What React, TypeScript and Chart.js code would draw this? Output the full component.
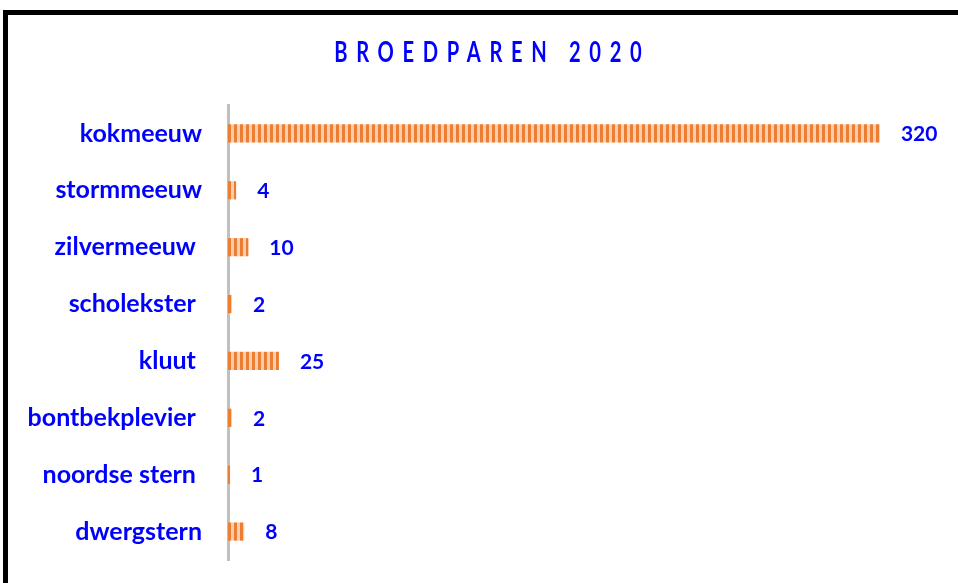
import React, { useEffect, useRef } from "react";
import { Chart, registerables } from "chart.js";

Chart.register(...registerables);

const categories = [
  "kokmeeuw",
  "stormmeeuw",
  "zilvermeeuw ",
  "scholekster ",
  "kluut ",
  "bontbekplevier ",
  "noordse stern ",
  "dwergstern",
];
const values = [320, 4, 10, 2, 25, 2, 1, 8];
const chartTitle = "BROEDPAREN 2020";

const BLUE = "#0000FF";
const FONT = "Lato";

function makePattern(ctx: CanvasRenderingContext2D) {
  const c = document.createElement("canvas");
  c.width = 6;
  c.height = 2;
  const p = c.getContext("2d")!;
  p.fillStyle = "#FACDAE";
  p.fillRect(0, 0, 6, 2);
  p.fillStyle = "#ED7D31";
  p.fillRect(0, 0, 3, 2);
  return ctx.createPattern(c, "repeat")!;
}

const titlePlugin = {
  id: "spacedTitle",
  afterDraw(chart: any) {
    const ctx = chart.ctx as CanvasRenderingContext2D;
    const sx = 0.72;
    const spacing = 12;
    ctx.save();
    ctx.font = `bold 28px ${FONT}`;
    ctx.fillStyle = BLUE;
    (ctx as any).letterSpacing = `${spacing}px`;
    ctx.textAlign = "left";
    ctx.textBaseline = "middle";
    const w = ctx.measureText(chartTitle).width - spacing;
    ctx.translate(488 - (w * sx) / 2, 53);
    ctx.scale(sx, 1);
    ctx.fillText(chartTitle, 0, 0);
    ctx.restore();
  },
};

const valuePlugin = {
  id: "valueLabels",
  afterDatasetsDraw(chart: any) {
    const ctx = chart.ctx as CanvasRenderingContext2D;
    const meta = chart.getDatasetMeta(0);
    ctx.save();
    ctx.font = `bold 21px ${FONT}`;
    ctx.fillStyle = BLUE;
    ctx.textAlign = "left";
    ctx.textBaseline = "middle";
    meta.data.forEach((bar: any, i: number) => {
      ctx.fillText(String(values[i]), bar.x + 21, bar.y + 1);
    });
    ctx.restore();
  },
};

export default function App() {
  const ref = useRef<HTMLCanvasElement>(null);
  useEffect(() => {
    document.body.style.margin = "0";
    document.body.style.overflow = "hidden";
    const canvas = ref.current!;
    const ctx = canvas.getContext("2d")!;
    const chart = new Chart(ctx, {
      type: "bar",
      data: {
        labels: categories,
        datasets: [
          {
            data: values,
            backgroundColor: makePattern(ctx),
            borderWidth: 0,
            barPercentage: 0.32,
            categoryPercentage: 1,
          },
        ],
      },
      options: {
        indexAxis: "y",
        animation: false,
        responsive: false,
        maintainAspectRatio: false,
        layout: { padding: { left: 0, right: 17, top: 105, bottom: 23 } },
        plugins: {
          legend: { display: false },
          tooltip: { enabled: false },
          title: { display: false },
        },
        scales: {
          x: { display: false, min: 0, max: 350 },
          y: {
            grid: { display: false },
            border: { display: true, color: "#C0C0C0", width: 3 },
            ticks: {
              color: BLUE,
              font: { family: FONT, weight: "bold", size: 25 },
              padding: 18,
            },
            afterFit: (scale: any) => {
              scale.width = 228;
              scale.paddingTop = 0;
              scale.paddingBottom = 0;
            },
          },
        },
      },
      plugins: [titlePlugin, valuePlugin],
    } as any);
    return () => chart.destroy();
  }, []);

  return (
    <div
      style={{
        position: "fixed",
        left: 0,
        top: 0,
        width: 958,
        height: 583,
        overflow: "hidden",
        background: "#fff",
      }}
    >
      <div
        style={{
          position: "absolute",
          left: 3,
          top: 10,
          width: 2000,
          height: 2000,
          borderTop: "5px solid #000",
          borderLeft: "5px solid #000",
        }}
      />
      <canvas
        ref={ref}
        width={958}
        height={583}
        style={{ position: "absolute", left: 0, top: 0, width: 958, height: 583 }}
      />
    </div>
  );
}
